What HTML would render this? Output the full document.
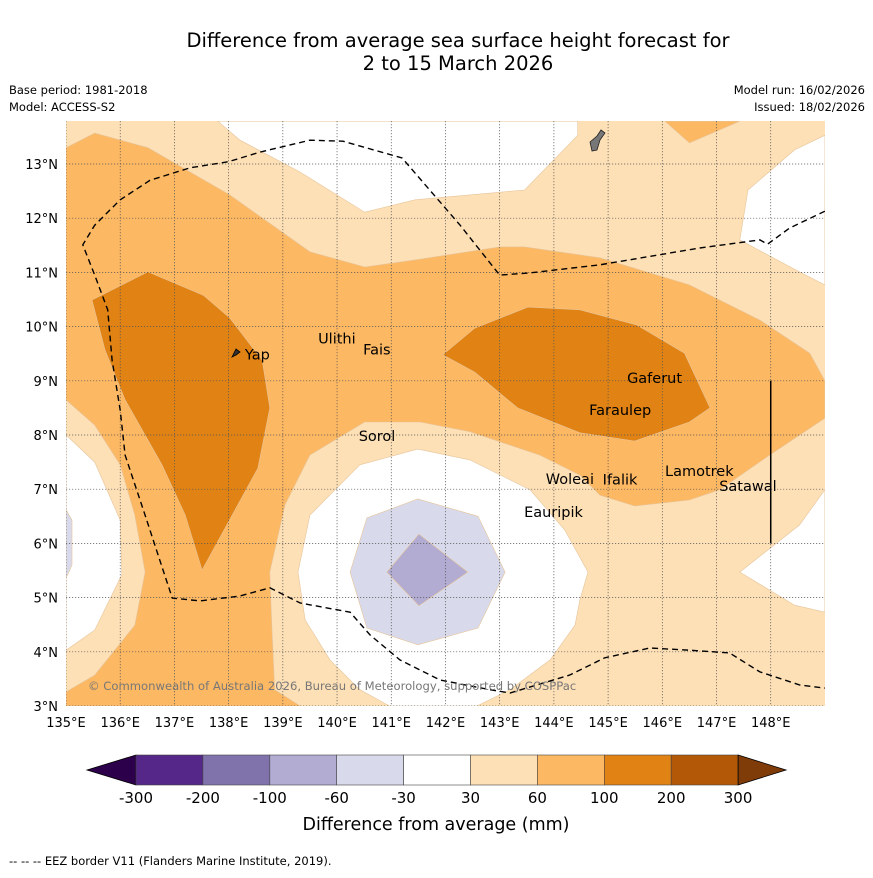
<!DOCTYPE html>
<html><head><meta charset="utf-8"><style>
body{margin:0;background:#fff;font-family:"Liberation Sans","DejaVu Sans",sans-serif}
svg text{font-family:"DejaVu Sans","Liberation Sans",sans-serif}
</style></head><body>
<svg id="s" width="873" height="873" viewBox="0 0 873 873" xmlns="http://www.w3.org/2000/svg">
<text x="458" y="47" font-size="19.5" text-anchor="middle">Difference from average sea surface height forecast for</text>
<text x="458" y="70" font-size="19.5" text-anchor="middle">2 to 15 March 2026</text>
<text x="9" y="94" font-size="11.5">Base period: 1981-2018</text>
<text x="9" y="111" font-size="11.5">Model: ACCESS-S2</text>
<text x="865" y="94" font-size="11.5" text-anchor="end">Model run: 16/02/2026</text>
<text x="865" y="111" font-size="11.5" text-anchor="end">Issued: 18/02/2026</text>
<defs><clipPath id="cp"><rect x="66" y="121" width="759" height="585"/></clipPath></defs>
<g id="map" clip-path="url(#cp)"></g>
<g id="axes"></g>
<g id="cbar"></g>
<text x="436" y="830" font-size="17.5" text-anchor="middle">Difference from average (mm)</text>
<text x="9" y="865" font-size="11.5">--  --  -- EEZ border V11 (Flanders Marine Institute, 2019).</text>
</svg>
<script>
const NS="http://www.w3.org/2000/svg";
const lonMin=135,lonMax=149,latMin=3,latMax=13.8;
const lonTicks=[135,136,137,138,139,140,141,142,143,144,145,146,147,148];
const latTicks=[3,4,5,6,7,8,9,10,11,12,13];
const cbLevels=["-300","-200","-100","-60","-30","30","60","100","200","300"];
const cbColors=["#542788","#8073ac","#b2abd2","#d8daeb","#ffffff","#fee0b6","#fdb863","#e08214","#b35806"];
const band60=[[135,13.3],[135.53,13.57],[136.51,13.3],[138.02,12.43],[139.5,11.38],[140.51,11.1],[141.44,11.23],[143,11.47],[143.46,11.47],[144.85,11.27],[146.5,10.77],[147.8,10.12],[148.72,9.51],[149,9.0],[149,8.31],[147.98,7.63],[147.06,6.99],[146.5,6.8],[145.49,6.69],[144.85,6.89],[144.48,7.26],[143.74,7.63],[142.45,8.06],[141.53,8.24],[140.51,8.24],[139.5,7.63],[139.04,6.71],[138.76,5.47],[138.8,4.4],[138.85,3.3],[139.32,3],[135,3],[135,3.26],[135.53,3.57],[136.27,4.49],[136.46,5.47],[136.27,6.52],[136.0,7.45],[135.53,8.18],[135,8.65]];
const whiteTop=[[137.8,13.79],[138.21,13.44],[139.32,12.85],[140.51,12.11],[141.44,12.34],[143.46,12.52],[144.44,13.53],[144.44,13.79]];
const whiteRight=[[149,13.53],[148.44,13.26],[147.58,12.52],[147.43,11.6],[148.53,11.01],[149,10.77]];
const whiteLowRight=[[149,6.99],[148.53,6.34],[147.43,5.47],[148.44,4.86],[149,4.73]];
const whiteLeft=[[135,8.0],[135.53,7.5],[136.0,6.43],[136.03,5.42],[135.53,4.4],[135,4.03]];
const whiteCenter=[[140.97,3],[140.42,3.3],[139.87,3.85],[139.41,4.59],[139.28,5.47],[139.5,6.52],[140.42,7.45],[141.49,7.74],[142.45,7.54],[143.56,6.99],[144.2,6.25],[144.63,5.47],[144.48,4.96],[144.39,4.49],[143.93,3.85],[143.19,3.3],[142.58,3]];
const orange60TR=[[146.05,13.79],[146.5,13.39],[147.43,13.79]];
const orangeLeft=[[135.48,10.49],[136.51,11.01],[137.53,10.58],[138.02,10.16],[138.62,9.38],[138.76,8.5],[138.54,7.39],[137.51,5.51],[137.2,6.52],[136.77,7.45],[136.09,8.65],[135.72,9.57]];
const orangeRight=[[141.95,9.48],[142.54,9.97],[143.52,10.36],[144.48,10.31],[145.53,10.03],[146.41,9.51],[146.88,8.5],[146.5,8.24],[145.49,7.89],[144.48,8.04],[143.33,8.5],[142.54,9.16]];
const purpleLight=[[140.24,5.47],[140.55,6.47],[141.49,6.82],[142.6,6.5],[143.1,5.47],[142.6,4.44],[141.49,4.13],[140.55,4.44]];
const purpleMid=[[140.92,5.47],[141.51,6.17],[142.41,5.47],[141.51,4.85]];
const purpleSliver=[[135,6.62],[135.11,6.43],[135.11,5.6],[135,5.36]];
const eez=[[149,12.13],[148.35,11.82],[147.94,11.52],[147.8,11.6],[146.69,11.45],[144.85,11.14],[143.56,10.99],[143,10.95],[142.27,11.87],[141.71,12.52],[141.2,13.11],[140.11,13.42],[139.5,13.44],[138.58,13.22],[137.99,13.04],[137.29,12.93],[136.55,12.7],[136.0,12.34],[135.53,11.87],[135.31,11.51],[135.53,10.95],[135.77,10.31],[135.85,9.38],[136.0,8.46],[136.09,7.63],[136.46,6.52],[136.73,5.69],[136.96,4.99],[137.47,4.94],[138.21,5.03],[138.76,5.18],[139.32,4.9],[140.24,4.73],[140.61,4.31],[141.16,3.85],[141.9,3.48],[142.82,3.3],[143.19,3.24],[144.29,3.57],[144.94,3.89],[145.77,4.07],[146.5,4.03],[147.24,3.98],[147.8,3.63],[148.53,3.39],[149,3.33]];
const places=["Yap","Ulithi","Fais","Gaferut","Faraulep","Sorol","Woleai","Ifalik","Lamotrek","Satawal","Eauripik"];
const placeLon=[138.3,139.65,140.48,145.35,144.65,140.4,143.85,144.9,146.05,147.05,143.45];
const placeLat=[9.5,9.8,9.6,9.07,8.48,8.0,7.21,7.2,7.35,7.08,6.6];
const px=l=>66+(l-lonMin)*54.21;
const py=l=>706-(l-latMin)*54.2;
const map=document.getElementById('map'),axes=document.getElementById('axes'),cbar=document.getElementById('cbar');
function poly(pts,fill,name,g){const p=document.createElementNS(NS,'polygon');
p.setAttribute('points',pts.map(q=>px(q[0]).toFixed(1)+','+py(q[1]).toFixed(1)).join(' '));
p.setAttribute('fill',fill);p.setAttribute('stroke','#e6c49a');p.setAttribute('stroke-width','0.6');


(g||map).appendChild(p);return p;}
const bg=document.createElementNS(NS,'rect');bg.setAttribute('x',66);bg.setAttribute('y',121);bg.setAttribute('width',759);bg.setAttribute('height',585);bg.setAttribute('fill','#fee0b6');


map.appendChild(bg);
poly(band60,'#fdb863','contour-60-100-band');
poly(orange60TR,'#fdb863','contour-60-100-north');
poly(whiteTop,'#ffffff','contour-neutral-north');
poly(whiteRight,'#ffffff','contour-neutral-east');
poly(whiteLowRight,'#ffffff','contour-neutral-southeast');
poly(whiteLeft,'#ffffff','contour-neutral-west');
poly(whiteCenter,'#ffffff','contour-neutral-center');
poly(orangeLeft,'#e08214','contour-100-200-west');
poly(orangeRight,'#e08214','contour-100-200-east');
poly(purpleSliver,'#d8daeb','contour-minus30-60-west');
poly(purpleLight,'#d8daeb','contour-minus30-60-center');
poly(purpleMid,'#b2abd2','contour-minus60-100-center');
lonTicks.forEach(l=>{const ln=document.createElementNS(NS,'line');ln.setAttribute('x1',px(l));ln.setAttribute('x2',px(l));ln.setAttribute('y1',121);ln.setAttribute('y2',706);ln.setAttribute('stroke','#555');ln.setAttribute('stroke-width','0.7');ln.setAttribute('stroke-dasharray','1.2,1.8');


map.appendChild(ln);});
latTicks.forEach(l=>{const ln=document.createElementNS(NS,'line');ln.setAttribute('y1',py(l));ln.setAttribute('y2',py(l));ln.setAttribute('x1',66);ln.setAttribute('x2',825);ln.setAttribute('stroke','#555');ln.setAttribute('stroke-width','0.7');ln.setAttribute('stroke-dasharray','1.2,1.8');


map.appendChild(ln);});
const e=document.createElementNS(NS,'polyline');e.setAttribute('points',eez.map(q=>px(q[0]).toFixed(1)+','+py(q[1]).toFixed(1)).join(' '));e.setAttribute('fill','none');e.setAttribute('stroke','#000');e.setAttribute('stroke-width','1.4');e.setAttribute('stroke-dasharray','6,4');


map.appendChild(e);
const v=document.createElementNS(NS,'line');v.setAttribute('x1',px(148));v.setAttribute('x2',px(148));v.setAttribute('y1',py(9));v.setAttribute('y2',py(6));v.setAttribute('stroke','#000');v.setAttribute('stroke-width','1.5');


map.appendChild(v);
const guam=document.createElementNS(NS,'path');guam.setAttribute('d','M590,142 L597,136 L601,130 L605,133 L600,140 L597,150 L592,151 Z');guam.setAttribute('fill','#777');guam.setAttribute('stroke','#222');guam.setAttribute('stroke-width','0.8');


map.appendChild(guam);
const yap=document.createElementNS(NS,'path');yap.setAttribute('d','M232,357 L236,349 L240,352 L236,355 Z');yap.setAttribute('fill','#333');yap.setAttribute('stroke','#000');yap.setAttribute('stroke-width','0.8');


map.appendChild(yap);
places.forEach((n,i)=>{const t=document.createElementNS(NS,'text');t.setAttribute('x',px(placeLon[i]));t.setAttribute('y',py(placeLat[i])+6);t.setAttribute('font-size','14.5');t.textContent=n;


map.appendChild(t);});
const cr=document.createElementNS(NS,'text');cr.setAttribute('x',88);cr.setAttribute('y',690);cr.setAttribute('font-size','11.6');cr.setAttribute('fill','#777');cr.textContent='© Commonwealth of Australia 2026, Bureau of Meteorology, supported by COSPPac';


map.appendChild(cr);
lonTicks.forEach(l=>{const t=document.createElementNS(NS,'text');t.setAttribute('x',px(l));t.setAttribute('y',727);t.setAttribute('font-size','13');t.setAttribute('text-anchor','middle');t.textContent=l+'°E';


axes.appendChild(t);});
latTicks.forEach(l=>{const t=document.createElementNS(NS,'text');t.setAttribute('x',58);t.setAttribute('y',py(l)+5);t.setAttribute('font-size','13');t.setAttribute('text-anchor','end');t.textContent=l+'°N';


axes.appendChild(t);});
const cx0=136,cw=66.9,cy=755,ch=30;
const lt=document.createElementNS(NS,'polygon');lt.setAttribute('points',`87,${cy+ch/2} ${cx0},${cy} ${cx0},${cy+ch}`);lt.setAttribute('fill','#2d004b');lt.setAttribute('stroke','#000');lt.setAttribute('stroke-width','0.8');


cbar.appendChild(lt);
cbColors.forEach((c,i)=>{const r=document.createElementNS(NS,'rect');r.setAttribute('x',cx0+i*cw);r.setAttribute('y',cy);r.setAttribute('width',cw);r.setAttribute('height',ch);r.setAttribute('fill',c);r.setAttribute('stroke','#444');r.setAttribute('stroke-width','0.6');


cbar.appendChild(r);});
const xe=cx0+cbColors.length*cw;
const rt=document.createElementNS(NS,'polygon');rt.setAttribute('points',`${xe},${cy} 786,${cy+ch/2} ${xe},${cy+ch}`);rt.setAttribute('fill','#7f3b08');rt.setAttribute('stroke','#000');rt.setAttribute('stroke-width','0.8');


cbar.appendChild(rt);
cbLevels.forEach((s,i)=>{const t=document.createElementNS(NS,'text');t.setAttribute('x',cx0+i*cw);t.setAttribute('y',803);t.setAttribute('font-size','15');t.setAttribute('text-anchor','middle');t.textContent=s;


cbar.appendChild(t);});
</script>
</body></html>
